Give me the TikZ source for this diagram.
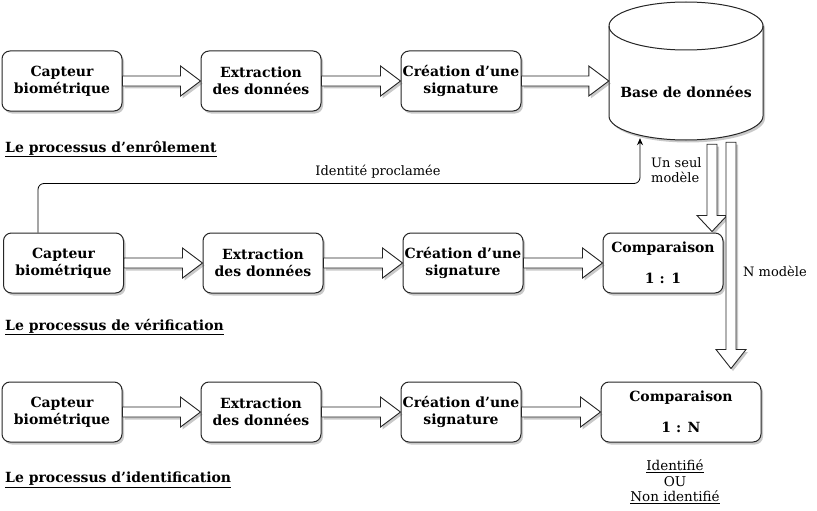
\documentclass[tikz,border=0pt]{standalone}
\usepackage{fontspec}
\setmainfont{DejaVu Serif}
\usetikzlibrary{calc,shadows,arrows.meta}

\tikzset{
  myshadow/.style={drop shadow={shadow xshift=2pt,shadow yshift=-2.5pt,opacity=0.3,fill=black!70}},
  stepbox/.style={draw=black!85, line width=1pt, rounded corners=8pt, fill=white,
    minimum width=120pt, minimum height=60pt, align=center, inner sep=1pt,
    font=\bfseries\fontsize{14}{17}\selectfont, myshadow},
  barrow/.style={draw=black!85, line width=0.9pt, fill=white, line join=miter, myshadow},
  titlelbl/.style={anchor=west, inner sep=0pt, font=\bfseries\fontsize{14}{16}\selectfont},
  lbl/.style={inner sep=1pt, font=\fontsize{13}{15}\selectfont},
}

\newcommand\harrow[2]{\draw[barrow] let \p1=(#1.east), \p2=(#2.west) in
  (\x1,\y1+5pt) -- (\x2-20pt,\y1+5pt) -- (\x2-20pt,\y1+15pt) -- (\x2,\y1) --
  (\x2-20pt,\y1-15pt) -- (\x2-20pt,\y1-5pt) -- (\x1,\y1-5pt) -- cycle;}
\newcommand\varrow[3]{\draw[barrow] let \p1=(#1), \p2=(#2) in
  (\x2-5pt,\y1) -- (\x2-5pt,\y2+#3) -- (\x2-15pt,\y2+#3) -- (\x2,\y2) --
  (\x2+15pt,\y2+#3) -- (\x2+5pt,\y2+#3) -- (\x2+5pt,\y1) -- cycle;}

\begin{document}
\begin{tikzpicture}[x=1pt,y=-1pt]
\useasboundingbox (0,0) rectangle (817,511);

% database cylinder
\node[minimum width=154pt, minimum height=138pt, inner sep=0pt] (db) at (686,71) {};
\draw[line width=1pt, draw=black!85, fill=white, myshadow]
  (609,26) -- (609,116) arc[start angle=180, end angle=360, x radius=77pt, y radius=24pt]
  -- (763,26) arc[start angle=0, end angle=180, x radius=77pt, y radius=24pt] -- cycle;
\draw[line width=1pt, draw=black!85]
  (609,26) arc[start angle=180, end angle=360, x radius=77pt, y radius=24pt];
\node[font=\bfseries\fontsize{14}{17}\selectfont] (dbl) at (686,92) {Base de données};

% row 1: enrolment
\node[stepbox] (e1) at (62,81) {Capteur\\biométrique};
\node[stepbox] (e2) at (261,81) {Extraction\\des données};
\node[stepbox] (e3) at (461,81) {Création d’une\\signature};
\harrow{e1}{e2}
\harrow{e2}{e3}
\harrow{e3}{db}
\node[titlelbl] (t1) at (5,149) {\underline{Le processus d’enrôlement}};

% row 2: verification
\node[stepbox] (v1) at (63.5,263) {Capteur\\biométrique};
\node[stepbox] (v2) at (263,263) {Extraction\\des données};
\node[stepbox] (v3) at (463,263) {Création d’une\\signature};
\node[stepbox] (v4) at (663,263) {Comparaison\\[14pt]1 : 1};
\harrow{v1}{v2}
\harrow{v2}{v3}
\harrow{v3}{v4}
\node[titlelbl] (t2) at (5,327) {\underline{Le processus de vérification}};

% row 3: identification
\node[stepbox] (i1) at (62,412) {Capteur\\biométrique};
\node[stepbox] (i2) at (261,412) {Extraction\\des données};
\node[stepbox] (i3) at (461,412) {Création d’une\\signature};
\node[stepbox, minimum width=160pt] (i4) at (681,412) {Comparaison\\[14pt]1 : N};
\harrow{i1}{i2}
\harrow{i2}{i3}
\harrow{i3}{i4}
\node[titlelbl] (t3) at (5,480) {\underline{Le processus d’identification}};

% claimed identity
\coordinate (cs) at ($(v1.north west)+(35,0)$);
\coordinate (ct) at ($(db.south)+(-46,-2)$);
\draw[line width=0.8pt, rounded corners=6pt, -{Stealth[length=7pt,width=6pt]}]
  (cs) -- ++(0,-49) -| (ct);
\node[lbl] (idp) at (378,172) {Identité proclamée};

% db -> comparisons
\coordinate (us0) at ($(db.south)+(25.5,4)$);
\coordinate (us1) at ($(v4.north east)+(-11.5,-1)$);
\varrow{us0}{us1}{16pt}
\node[lbl, anchor=west, align=left, font=\fontsize{13}{15}\selectfont] (usl) at (650,170) {Un seul\\modèle};

\coordinate (nm0) at ($(db.south)+(45,2)$);
\coordinate (nm1) at ($(i4.north)+(50,-13)$);
\varrow{nm0}{nm1}{19pt}
\node[lbl, anchor=west] (nml) at (742,271) {N modèle};

% result
\node[lbl, align=center, font=\fontsize{13.5}{15.5}\selectfont] (res) at (675,482)
  {\underline{Identifié}\\OU\\\underline{Non identifié}};
\end{tikzpicture}
\end{document}
